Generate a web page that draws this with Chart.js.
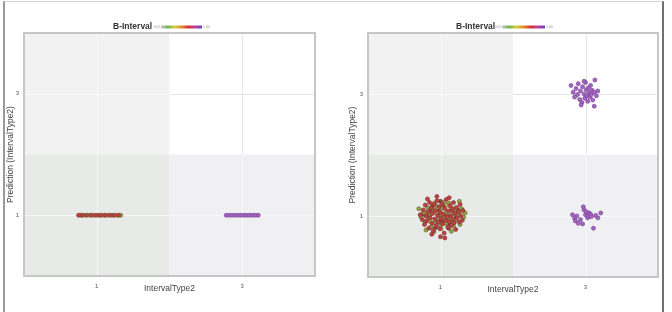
<!DOCTYPE html>
<html>
<head>
<meta charset="utf-8">
<script src="https://cdn.jsdelivr.net/npm/chart.js@4.4.0/dist/chart.umd.min.js"></script>
<style>
  html, body { margin: 0; padding: 0; background: #fff; overflow: hidden; }
  #frame { position: absolute; left: 3px; top: 1px; width: 657px; height: 330px;
           border-left: 2px solid #9a9a9a; border-right: 2px solid #707070; border-top: 1px solid #d4d4d4; }
  canvas { position: absolute; top: 0; }
</style>
</head>
<body>
<div id="frame"></div>
<canvas id="left-chart" width="336" height="312" style="left:0"></canvas>
<canvas id="right-chart" width="336" height="312" style="left:336px"></canvas>
<script>
const titleText = 'B-Interval';
const xTitle = 'IntervalType2';
const yTitle = 'Prediction (IntervalType2)';
const tickValues = [1, 3];
const tickLabels = ['1', '3'];
const gradStops = ['#c4cbd8', '#74b04a', '#d8cf3e', '#e48a30', '#d23434', '#c03e9c', '#6a44c4'];

// left panel: predictions without jitter on y
const leftRedX = [0.75, 0.80, 0.86, 0.93, 0.99, 1.05, 1.12, 1.18, 1.24, 1.30];
const leftGreenX = [0.78, 0.90, 1.02, 1.10, 1.21, 1.33];
const leftYellowX = [0.83, 0.96, 1.08, 1.15, 1.27];
const leftPurpleX = [2.78, 2.82, 2.86, 2.90, 2.94, 2.98, 3.02, 3.06, 3.10, 3.14, 3.18, 3.22];

// right panel: jittered clusters
const rightRed = [[0.72,1.02],[0.75,0.94],[0.76,1.10],[0.78,0.86],[0.79,1.18],[0.80,1.00],[0.81,0.92],[0.83,1.07],[0.84,0.80],[0.85,1.22],
  [0.86,0.97],[0.87,1.13],[0.88,0.88],[0.89,1.04],[0.90,0.76],[0.91,1.19],[0.92,0.95],[0.93,1.09],[0.94,0.84],[0.95,1.25],
  [0.96,1.01],[0.97,0.90],[0.98,1.15],[0.99,0.79],[1.00,1.06],[1.01,0.96],[1.02,1.20],[1.03,0.87],[1.04,1.03],[1.05,0.72],
  [1.06,1.12],[1.07,0.93],[1.08,1.27],[1.09,0.99],[1.10,0.82],[1.11,1.08],[1.12,0.91],[1.13,1.17],[1.14,1.00],[1.15,0.85],
  [1.16,1.11],[1.17,0.95],[1.18,1.22],[1.19,0.89],[1.20,1.04],[1.21,0.78],[1.22,1.14],[1.23,0.97],[1.25,1.07],[1.26,0.90],
  [1.27,1.19],[1.28,1.00],[1.30,0.93],[1.31,1.09],[0.88,0.70],[1.00,0.66],[0.82,1.28],[1.12,1.30],[0.95,1.32],[1.06,0.64]];
const rightGreen = [[0.73,0.98],[0.77,1.06],[0.79,0.90],[0.82,1.14],[0.84,0.96],[0.86,1.03],[0.87,0.82],[0.90,1.10],[0.92,0.89],[0.94,1.17],
  [0.96,0.94],[0.98,1.02],[1.00,0.85],[1.01,1.13],[1.03,0.98],[1.05,1.23],[1.07,0.88],[1.08,1.05],[1.10,0.95],[1.12,1.21],
  [1.14,0.92],[1.16,1.03],[1.18,0.83],[1.20,1.12],[1.22,0.94],[1.24,1.02],[1.27,0.86],[1.29,1.12],[1.32,0.98],[0.70,1.12],
  [1.34,1.05],[0.91,0.74],[1.15,0.75],[0.80,0.77],[1.26,1.24]];
const rightYellow = [[0.85,0.92],[0.95,1.04],[1.05,0.97],[1.15,1.14],[0.91,1.21],[1.19,0.93],[1.01,0.79],[1.27,1.03],[0.81,1.06],[1.09,1.18]];
const rightDark = [[0.83,0.99],[0.89,1.16],[0.93,0.81],[0.97,1.08],[1.02,0.91],[1.04,1.16],[1.09,1.01],[1.13,0.86],[1.17,1.06],[1.21,0.97],
  [0.86,1.09],[1.00,1.24],[1.11,0.80],[0.76,1.03],[1.24,1.10]];
const rightPurpleTop = [[2.80,3.14],[2.83,3.03],[2.85,2.95],[2.87,3.09],[2.89,2.99],[2.90,3.17],[2.92,2.91],[2.93,3.05],[2.95,2.86],[2.96,3.12],
  [2.98,3.00],[2.99,2.93],[3.00,3.19],[3.01,3.07],[3.02,2.97],[3.03,2.88],[3.04,3.10],[3.05,3.02],[3.06,2.95],[3.07,3.14],
  [3.08,2.99],[3.09,3.06],[3.10,2.90],[3.12,3.03],[3.13,3.23],[3.15,2.97],[3.17,3.05],[3.12,2.80],[2.94,2.82],[2.98,3.21]];
const rightPurpleBottom = [[2.82,1.02],[2.85,0.96],[2.86,0.92],[2.88,1.00],[2.90,0.88],[2.93,0.94],[2.96,0.87],[2.97,1.15],[2.98,1.10],[3.00,1.02],
  [3.01,1.07],[3.03,0.97],[3.04,1.00],[3.05,1.05],[3.07,1.03],[3.08,0.99],[3.11,0.80],[3.14,1.01],[3.17,0.97],[3.21,1.05]];

const FONT = '"Liberation Sans", Arial, sans-serif';

const styles = {
  red: ['#b94444', '#8a3030'],
  green: ['#95a04a', '#6a7432'],
  yellow: ['#cfae52', '#937a34'],
  dark: ['#8a4a3a', '#5e3428'],
  purple: ['#a565c2', '#7a4698']
};

function pts(list) {
  return list.map(p => ({ x: p[0], y: p[1] }));
}

function onLine(xs) {
  return xs.map(v => ({ x: v, y: 1 }));
}

function ds(data, style) {
  return {
    data,
    pointRadius: 2,
    pointHoverRadius: 2,
    borderWidth: 0.7,
    backgroundColor: styles[style][0],
    borderColor: styles[style][1]
  };
}

// quadrant shading, grid lines and plot frame
const quadPlugin = {
  id: 'quads',
  beforeDatasetsDraw(chart) {
    const { ctx, chartArea: a, scales: { x, y } } = chart;
    const mx = x.getPixelForValue(2);
    const my = y.getPixelForValue(2);
    ctx.save();
    ctx.fillStyle = '#f1f2f1';
    ctx.fillRect(a.left, a.top, mx - a.left, my - a.top);
    ctx.fillStyle = '#ffffff';
    ctx.fillRect(mx, a.top, a.right - mx, my - a.top);
    ctx.fillStyle = '#e8eae8';
    ctx.fillRect(a.left, my, mx - a.left, a.bottom - my);
    ctx.fillStyle = '#f0f0f2';
    ctx.fillRect(mx, my, a.right - mx, a.bottom - my);

    ctx.lineWidth = 1;
    tickValues.forEach(v => {
      const px = Math.round(x.getPixelForValue(v)) + 0.5;
      const py = Math.round(y.getPixelForValue(v)) + 0.5;
      // vertical
      ctx.strokeStyle = v > 2 ? '#e6e6e6' : '#f8f8f8';
      ctx.beginPath(); ctx.moveTo(px, a.top); ctx.lineTo(px, my); ctx.stroke();
      ctx.strokeStyle = '#f8f8f8';
      ctx.beginPath(); ctx.moveTo(px, my); ctx.lineTo(px, a.bottom); ctx.stroke();
      // horizontal
      ctx.strokeStyle = '#f8f8f8';
      ctx.beginPath(); ctx.moveTo(a.left, py); ctx.lineTo(mx, py); ctx.stroke();
      ctx.strokeStyle = v > 2 ? '#e6e6e6' : '#f8f8f8';
      ctx.beginPath(); ctx.moveTo(mx, py); ctx.lineTo(a.right, py); ctx.stroke();
    });

    ctx.strokeStyle = '#c6c6c6';
    ctx.lineWidth = 2;
    ctx.strokeRect(a.left, a.top, a.right - a.left, a.bottom - a.top);
    ctx.restore();
  }
};

// title with the small colour key next to it
const headerPlugin = {
  id: 'header',
  afterDraw(chart, args, opts) {
    const ctx = chart.ctx;
    ctx.save();
    ctx.textBaseline = 'middle';
    ctx.font = 'bold 8.5px ' + FONT;
    ctx.fillStyle = '#333';
    ctx.textAlign = 'left';
    ctx.fillText(titleText, opts.x, 26.5);

    const g = ctx.createLinearGradient(opts.barX, 0, opts.barX + opts.barW, 0);
    gradStops.forEach((c, i) => g.addColorStop(i / (gradStops.length - 1), c));
    ctx.fillStyle = g;
    ctx.fillRect(opts.barX, 25.5, opts.barW, 3);

    ctx.font = '3.5px ' + FONT;
    ctx.fillStyle = '#999';
    ctx.textAlign = 'right';
    ctx.fillText('0.02', opts.barX - 0.5, 27);
    ctx.textAlign = 'left';
    ctx.fillText('1.00', opts.barX + opts.barW + 1, 27);
    ctx.restore();
  }
};

function scales(yWidth) {
  return {
    x: {
      type: 'linear', min: 0, max: 4,
      afterBuildTicks: s => { s.ticks = tickValues.map(v => ({ value: v })); },
      afterFit: s => { s.height = 18; },
      ticks: { callback: (v, i) => tickLabels[i], font: { family: FONT, size: 6 }, color: '#555', padding: 6.5 },
      grid: { display: false, drawTicks: false },
      border: { display: false },
      title: { display: true, text: xTitle, font: { family: FONT, size: 8.5 }, color: '#444', padding: 0 }
    },
    y: {
      type: 'linear', min: 0, max: 4,
      afterBuildTicks: s => { s.ticks = tickValues.map(v => ({ value: v })); },
      afterFit: s => { s.width = yWidth; },
      ticks: { callback: (v, i) => tickLabels[i], font: { family: FONT, size: 6 }, color: '#555', padding: 5 },
      grid: { display: false, drawTicks: false },
      border: { display: false },
      title: { display: true, text: yTitle, font: { family: FONT, size: 8.5 }, color: '#444', padding: 0 }
    }
  };
}

function makeChart(id, datasets, padding, yWidth, header) {
  return new Chart(document.getElementById(id), {
    type: 'scatter',
    data: { datasets },
    options: {
      responsive: false,
      animation: false,
      layout: { padding },
      scales: scales(yWidth),
      plugins: {
        legend: { display: false },
        tooltip: { enabled: false },
        header
      }
    },
    plugins: [quadPlugin, headerPlugin]
  });
}

makeChart('left-chart', [
  ds(onLine(leftRedX), 'red'),
  ds(onLine(leftGreenX), 'green'),
  ds(onLine(leftYellowX), 'yellow'),
  ds(onLine(leftPurpleX), 'purple')
], { left: 6, top: 33, right: 21, bottom: 18 }, 18, { x: 113, barX: 161, barW: 41 });

makeChart('right-chart', [
  ds(pts(rightRed), 'red'),
  ds(pts(rightGreen), 'green'),
  ds(pts(rightYellow), 'yellow'),
  ds(pts(rightDark), 'dark'),
  ds(pts(rightPurpleTop), 'purple'),
  ds(pts(rightPurpleBottom), 'purple')
], { left: 12, top: 33, right: 14, bottom: 17 }, 20, { x: 120, barX: 166, barW: 43 });
</script>
</body>
</html>
